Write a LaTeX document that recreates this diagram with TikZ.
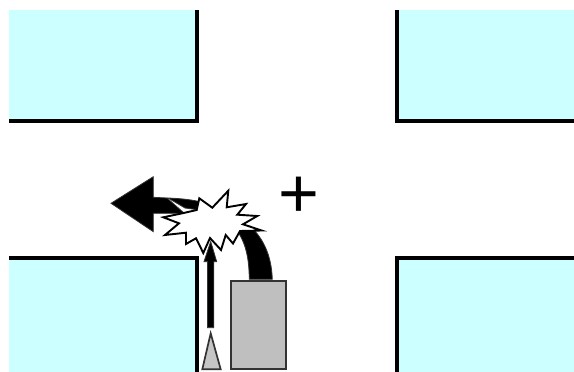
\documentclass[tikz,border=0pt]{standalone}
\usepackage{fontspec}
\setmainfont{Liberation Sans}
\definecolor{block}{HTML}{CCFFFF}
\definecolor{car}{HTML}{BFBFBF}
\definecolor{edgegray}{HTML}{333333}
\tikzset{
  blockfill/.style={fill=block,draw=none},
  wall/.style={draw=black,line width=4pt,line cap=butt,line join=miter},
  vehicle/.style={fill=car,draw=edgegray,line width=1.7pt,line join=miter},
  arrowbody/.style={fill=black,draw=edgegray,line width=0.8pt,line join=miter},
  burst/.style={fill=white,draw=black,line width=1.9pt,line join=miter},
}
\begin{document}
\begin{tikzpicture}[x=1pt,y=-1pt]
\useasboundingbox (0,0) rectangle (574,372);
\fill[white] (0,0) rectangle (574,372);
% blocks
\path[blockfill] (9,10) rectangle (195,119);
\draw[wall] (197,10) -- (197,120.5) -- (9,120.5);
\path[blockfill] (398,10) rectangle (574,119);
\draw[wall] (397.2,10) -- (397.2,120.5) -- (574,120.5);
\path[blockfill] (9,260) rectangle (195,372);
\draw[wall] (9,258.2) -- (197,258.2) -- (197,372);
\path[blockfill] (398,260) rectangle (574,372);
\draw[wall] (574,258.2) -- (397.2,258.2) -- (397.2,372);
% turning arrow (right of burst)
\draw[arrowbody] (249.3,279.3) .. controls (249,258) and (246,243) .. (236,229)
  -- (250,226) .. controls (263,238) and (271.5,255) .. (272.3,279.3) -- cycle;
% large arrow
\draw[arrowbody] (111,203.3) -- (153.3,176.7) -- (153.3,197.3) -- (167,198)
  -- (184.3,213.3) -- (153.3,213.3) -- (153.3,231.7) -- cycle;
\draw[arrowbody] (168,198) .. controls (180,198.5) and (190,199.5) .. (199,201.5)
  -- (196,209.5) -- (185,208) -- cycle;
% vehicle
\draw[vehicle] (231.3,281.3) rectangle (285.7,368.7);
% burst
\draw[burst] (199.3,198.3) -- (212.3,207.7) -- (228.3,190.7) -- (226.7,207.3)
  -- (246,204) -- (237.3,214.7) -- (257.3,216) -- (243,224.3) -- (261.7,230.5)
  -- (240,231) -- (233,243.5) -- (225.7,235) -- (221,250) -- (210,238)
  -- (203.3,253) -- (196,238.3) -- (186,244) -- (186,232.7) -- (165,235)
  -- (179,223.3) -- (163.3,217.3) -- (182.3,213.3) -- (196.7,210) -- cycle;
% straight arrow
\draw[arrowbody] (207.5,327.7) -- (207.5,261.7) -- (204,261.7) -- (210.7,241.5)
  -- (216.7,261.7) -- (213.8,261.7) -- (213.8,327.7) -- cycle;
% pedestrian triangle
\draw[vehicle,fill=car!90!white] (210.7,333.3) -- (220.7,369.3) -- (202.3,369.3) -- cycle;
% plus sign
\node[inner sep=0pt,anchor=center,font=\fontsize{70}{70}\selectfont] (plus) at (299,197.5) {+};
\end{tikzpicture}
\end{document}
